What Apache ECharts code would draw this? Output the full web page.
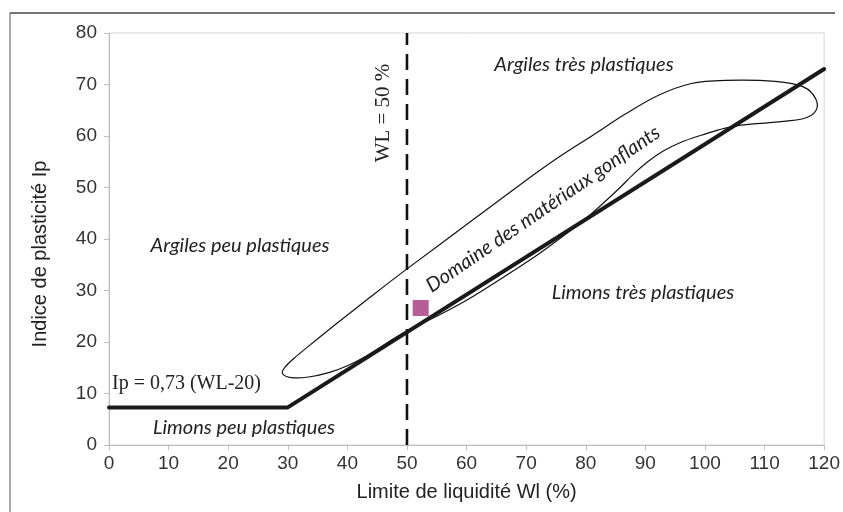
<!DOCTYPE html>
<html>
<head>
<meta charset="utf-8">
<script src="https://cdn.jsdelivr.net/npm/echarts@6/dist/echarts.min.js"></script>
<style>
  html, body { margin: 0; padding: 0; background: #fff; }
  #chart { width: 843px; height: 512px; }
</style>
</head>
<body>
<div id="chart"></div>
<script>
// Axis ranges and ticks
const xTicks = [0, 10, 20, 30, 40, 50, 60, 70, 80, 90, 100, 110, 120];
const yTicks = [0, 10, 20, 30, 40, 50, 60, 70, 80];

// Casagrande A-line: Ip = 0,73 (WL-20), flat at 7,3 below WL = 30
const aLine = [[0, 7.3], [30, 7.3], [120, 73]];

// Vertical limit WL = 50 %
const wlLimit = [[50, 0], [50, 80]];

// Outline of the swelling-materials domain (closed loop, last point joins the first)
const swellingZone = [
  [50, 34.2], [60, 42.8], [70, 51.4], [75.5, 55.9], [81, 60], [86.7, 64.3],
  [92.2, 67.9], [97.7, 70.2], [103.4, 70.8], [111.8, 70.6], [116.6, 69.5],
  [118.6, 67.2], [118.6, 64.9], [116.6, 63.4], [111.8, 62.7], [106, 62.1],
  [102.3, 61.2], [99.5, 60.2], [96, 58.8], [93, 57.1], [90.5, 55.1],
  [88, 52.6], [85.5, 49.7], [82.5, 46.5], [79.5, 43.5], [76, 40.4], [71.5, 36.6],
  [65, 31.7], [60, 28.1], [55, 25], [50, 22.2], [46.5, 19.7], [43.2, 17.3],
  [40, 15.4], [37, 14.1], [33.5, 13.2], [30.6, 13.1], [29.1, 13.9],
  [29.6, 15.2], [31, 16.8], [33.5, 19.2], [38.2, 23.6], [43.7, 28.6]
];

// Tested sample (WL, Ip)
const sample = [[52.3, 26.6]];

const chart = echarts.init(document.getElementById('chart'), null, { renderer: 'canvas' });

const tickFont = { fontFamily: 'Liberation Sans', fontSize: 19, color: '#333' };
const italic = { fontFamily: 'Lato', fontStyle: 'italic', fontSize: 20, fill: '#222' };

// Closed Catmull-Rom outline through the domain points, in pixel space
function renderZone(params, api) {
  const pts = swellingZone.map(p => api.coord(p));
  const n = pts.length;
  let d = 'M' + pts[0][0] + ' ' + pts[0][1];
  for (let i = 0; i < n; i++) {
    const p0 = pts[(i - 1 + n) % n], p1 = pts[i], p2 = pts[(i + 1) % n], p3 = pts[(i + 2) % n];
    const c1x = p1[0] + (p2[0] - p0[0]) / 6, c1y = p1[1] + (p2[1] - p0[1]) / 6;
    const c2x = p2[0] - (p3[0] - p1[0]) / 6, c2y = p2[1] - (p3[1] - p1[1]) / 6;
    d += ' C' + c1x + ' ' + c1y + ' ' + c2x + ' ' + c2y + ' ' + p2[0] + ' ' + p2[1];
  }
  d += ' Z';
  return {
    type: 'path',
    shape: { pathData: d },
    style: { fill: 'none', stroke: '#111', lineWidth: 1.2 }
  };
}

chart.setOption({
  animation: false,
  backgroundColor: '#fff',
  grid: {
    left: 109, right: 17, top: 33, bottom: 67,
    show: true, borderColor: '#d4d4d4', borderWidth: 1
  },
  xAxis: {
    type: 'value',
    min: xTicks[0], max: xTicks[xTicks.length - 1], interval: 10,
    name: 'Limite de liquidité Wl (%)',
    nameLocation: 'middle', nameGap: 37,
    nameTextStyle: { fontFamily: 'Liberation Sans', fontSize: 20, color: '#222' },
    axisLine: { lineStyle: { color: '#bdbdbd', width: 1 } },
    axisTick: { show: true, length: 5, lineStyle: { color: '#bdbdbd' } },
    axisLabel: Object.assign({ margin: 9 }, tickFont),
    splitLine: { show: false }
  },
  yAxis: {
    type: 'value',
    min: yTicks[0], max: yTicks[yTicks.length - 1], interval: 10,
    axisLine: { show: true, lineStyle: { color: '#bdbdbd', width: 1 } },
    axisTick: { show: true, length: 5, lineStyle: { color: '#bdbdbd' } },
    axisLabel: Object.assign({ margin: 12 }, tickFont),
    splitLine: { show: false }
  },
  series: [
    {
      name: 'WL = 50 %',
      type: 'line',
      data: wlLimit,
      symbol: 'none',
      lineStyle: { color: '#111', width: 2.6, type: [16, 9] },
      z: 2
    },
    {
      name: 'Domaine des matériaux gonflants',
      type: 'custom',
      data: [0],
      renderItem: renderZone,
      clip: true,
      z: 3
    },
    {
      name: 'Ligne A',
      type: 'line',
      data: aLine,
      symbol: 'none',
      lineStyle: { color: '#1a1a1a', width: 4, cap: 'round', join: 'round' },
      z: 4
    },
    {
      name: 'Échantillon',
      type: 'scatter',
      data: sample,
      symbol: 'rect',
      symbolSize: 16,
      itemStyle: { color: '#a3347a' },
      z: 5
    }
  ],
  graphic: [
    // page frame
    { type: 'line', shape: { x1: 10, y1: 13, x2: 835, y2: 13 }, style: { stroke: '#444', lineWidth: 1.5 }, silent: true },
    { type: 'line', shape: { x1: 10, y1: 13, x2: 10, y2: 512 }, style: { stroke: '#555', lineWidth: 1 }, silent: true },
    // vertical axis title
    { type: 'text', x: 40, y: 254, rotation: Math.PI / 2,
      style: { text: 'Indice de plasticité Ip', fontFamily: 'Liberation Sans', fontSize: 20, fill: '#222', align: 'center', verticalAlign: 'middle' } },
    // zone annotations
    { type: 'text', x: 584, y: 65, style: Object.assign({ text: 'Argiles très plastiques', align: 'center', verticalAlign: 'middle' }, italic) },
    { type: 'text', x: 240, y: 246, style: Object.assign({ text: 'Argiles peu plastiques', align: 'center', verticalAlign: 'middle' }, italic) },
    { type: 'text', x: 244, y: 428, style: Object.assign({ text: 'Limons peu plastiques', align: 'center', verticalAlign: 'middle' }, italic) },
    { type: 'text', x: 643, y: 293, style: Object.assign({ text: 'Limons très plastiques', align: 'center', verticalAlign: 'middle' }, italic) },
    { type: 'text', x: 543, y: 209, rotation: 0.60,
      style: Object.assign({}, italic, { text: 'Domaine des matériaux gonflants', align: 'center', verticalAlign: 'middle', fontSize: 20 }) },
    { type: 'text', x: 383, y: 113, rotation: Math.PI / 2,
      style: { text: 'WL = 50 %', fontFamily: 'Liberation Serif', fontSize: 21, fill: '#222', align: 'center', verticalAlign: 'middle' } },
    { type: 'text', x: 112, y: 394,
      style: { text: 'Ip = 0,73 (WL-20)', fontFamily: 'Liberation Serif', fontSize: 20, fill: '#222', align: 'left', verticalAlign: 'bottom' } }
  ]
});
</script>
</body>
</html>
